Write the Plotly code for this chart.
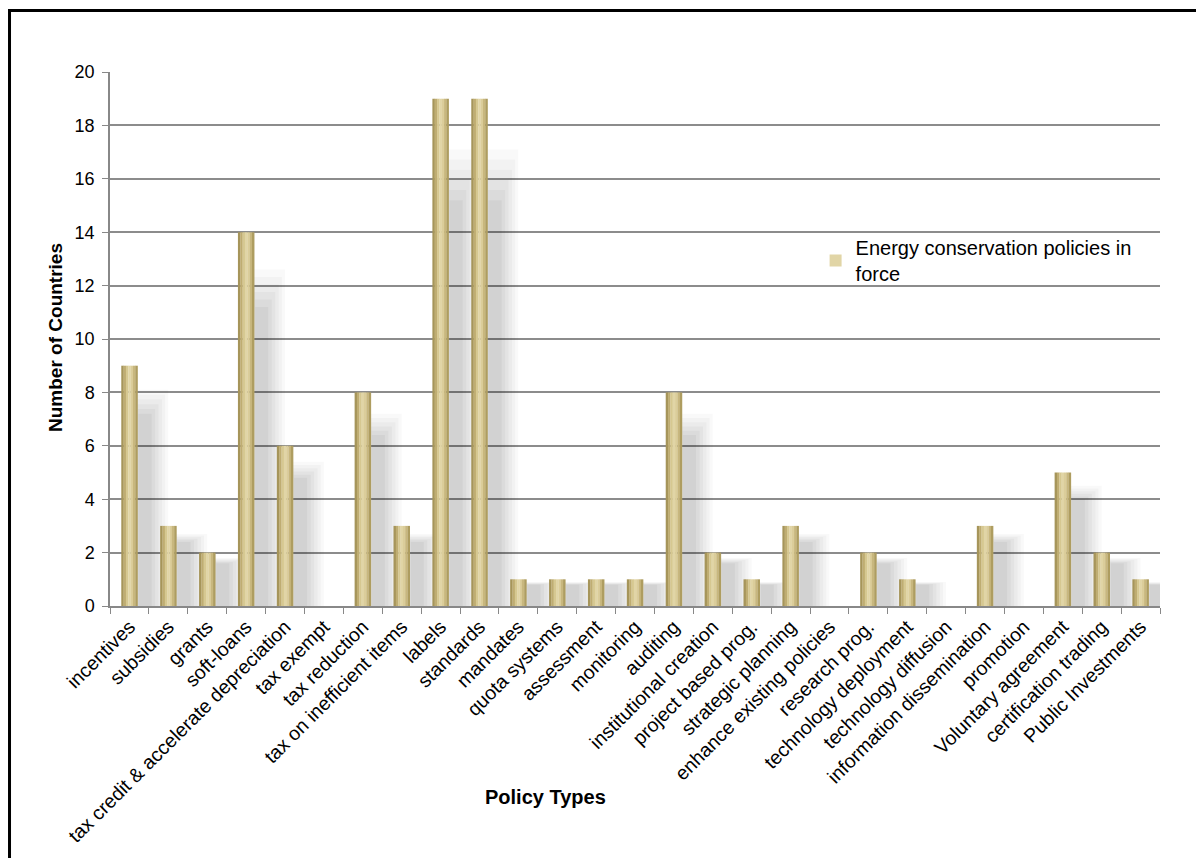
import plotly.graph_objects as go

categories = ["incentives", "subsidies", "grants", "soft-loans",
              "tax credit & accelerate depreciation", "tax exempt", "tax reduction",
              "tax on inefficient items", "labels", "standards", "mandates",
              "quota systems", "assessment", "monitoring", "auditing",
              "institutional creation", "project based prog.", "strategic planning",
              "enhance existing policies", "research prog.", "technology deployment",
              "technology diffusion", "information dissemination", "promotion",
              "Voluntary agreement", "certification trading", "Public Investments"]
values = [9, 3, 2, 14, 6, 0, 8, 3, 19, 19, 1, 1, 1, 1, 8, 2, 1, 3, 0, 2, 1, 0, 3, 0, 5, 2, 1]
series_name = "Energy conservation policies in<br>force"
y_ticks = [0, 2, 4, 6, 8, 10, 12, 14, 16, 18, 20]

FONT = "Liberation Sans, Arial, sans-serif"
fig = go.Figure()

# soft drop shadows to the right of each bar (styling only)
shadow_layers = [(0.84, 0.16, 0.90, 0.022), (0.74, 0.18, 0.88, 0.026),
                 (0.64, 0.20, 0.86, 0.029), (0.54, 0.21, 0.84, 0.032),
                 (0.44, 0.22, 0.82, 0.035), (0.34, 0.23, 0.80, 0.038)]
for w, off, hf, a in shadow_layers:
    fig.add_trace(go.Bar(
        x=categories, y=[v * hf for v in values], width=w, offset=off,
        marker=dict(color=f"rgba(0,0,0,{a})", line=dict(width=0)),
        showlegend=False, hoverinfo="skip"))

# horizontal gradient of the bar built from thin slices
slice_colors = ["#A6955A", "#BFAD72", "#D6C891", "#E1D5A6", "#DBCD9A", "#C8B77E", "#AE9D60"]
bw = 0.42
n = len(slice_colors)
sw = bw / n
for i, c in enumerate(slice_colors):
    fig.add_trace(go.Bar(
        x=categories, y=values, width=sw * 1.08, offset=-bw / 2 + i * sw,
        marker=dict(color=c, line=dict(width=0)),
        name=series_name, showlegend=(i == 3), legendgroup="s"))

fig.update_layout(
    width=1196, height=858,
    margin=dict(l=110, r=36, t=72, b=252),
    paper_bgcolor="white", plot_bgcolor="white",
    barmode="overlay",
    font=dict(family=FONT, size=18, color="#000"),
    legend=dict(x=0.672, y=0.708, xanchor="left", yanchor="top",
                font=dict(family=FONT, size=20), bgcolor="rgba(0,0,0,0)",
                itemsizing="constant", tracegroupgap=0, itemwidth=30),
    showlegend=True,
)
fig.update_xaxes(
    type="category", tickangle=-45, tickfont=dict(family=FONT, size=19.5),
    tickson="boundaries", ticks="outside", ticklen=6, tickcolor="#888",
    showline=True, linecolor="#888", linewidth=1.5, showgrid=False,
    range=[-0.5, len(categories) - 0.5], automargin=False)
fig.update_yaxes(
    range=[0, 20], tickvals=y_ticks, tickfont=dict(family=FONT, size=18),
    ticks="outside", ticklen=6, tickcolor="#888", ticklabelstandoff=4,
    showline=True, linecolor="#888", linewidth=1.5,
    showgrid=True, gridcolor="#8c8c8c", gridwidth=1.5, zeroline=False,
    automargin=False)

fig.add_annotation(text="<b>Number of Countries</b>", xref="paper", yref="paper",
                   x=-0.0514, y=0.502, xanchor="center", yanchor="middle",
                   textangle=-90, showarrow=False,
                   font=dict(family=FONT, size=19))
fig.add_annotation(text="<b>Policy Types</b>", xref="paper", yref="paper",
                   x=0.415, y=-0.358, xanchor="center", yanchor="middle",
                   showarrow=False, font=dict(family=FONT, size=20))

# outer chart frame
fig.add_shape(type="rect", xref="paper", yref="paper",
              x0=-0.0957, y0=-0.6, x1=1.2, y1=1.115,
              line=dict(color="black", width=3), fillcolor="rgba(0,0,0,0)", layer="above")

fig.write_html("out.html")
